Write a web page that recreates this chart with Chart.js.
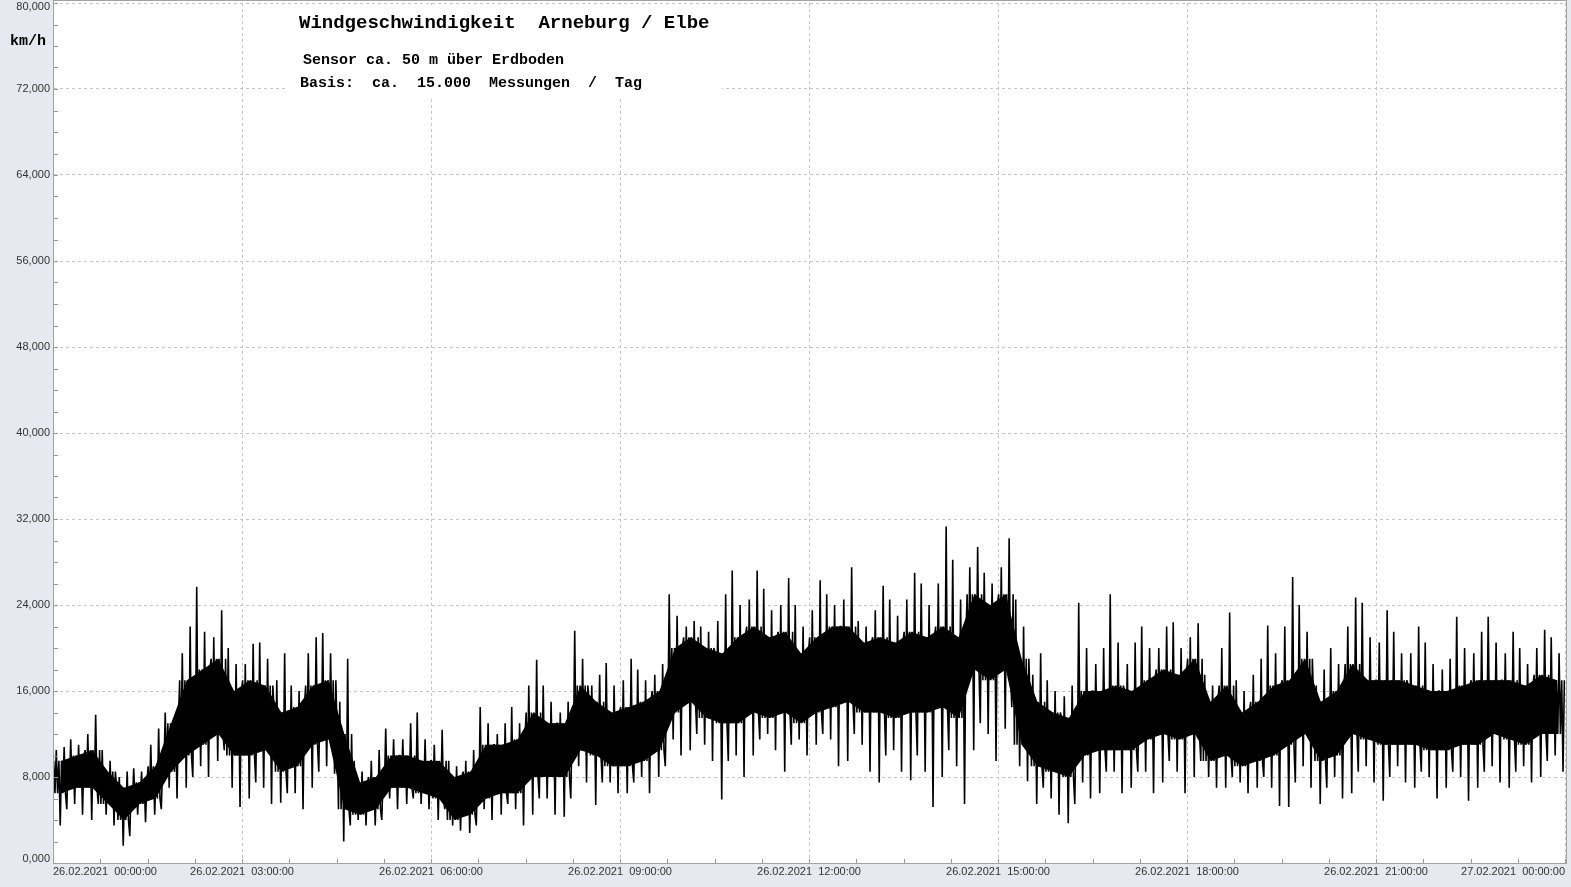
<!DOCTYPE html>
<html lang="de">
<head>
<meta charset="utf-8">
<title>Windgeschwindigkeit Arneburg / Elbe</title>
<script src="https://cdn.jsdelivr.net/npm/chart.js"></script>
<style>
    html, body { margin: 0; padding: 0; background: #e6e9f0; }
    canvas { display: block; }
</style>
</head>
<body>
<canvas id="chart" width="1571" height="887"></canvas>
<script>
const binHours = 0.25;

// hoechste Spitze im Abschnitt
const spikeHigh = [
    10.8, 11.5, 13.8, 10.5, 8.5, 8.8, 12.5, 14, 22, 25.7, 23.5, 20,
    20.4, 20.5, 19.5, 16.5, 21, 21.4, 19, 9.5, 10.5, 12.5, 13, 14,
    12.4, 9.5, 10.5, 14.5, 13, 14.5, 18.9, 16.5, 15, 21.6, 17.5, 18.6,
    19, 18, 18.5, 25, 22.5, 22, 25, 27.2, 27.2, 25.5, 26.5, 24,
    26.3, 25, 27.5, 22.5, 25.8, 24.5, 27, 26, 31.3, 28.2, 29.4, 27,
    30.2, 24.5, 19.5, 17, 16.5, 24.2, 20, 25, 20.5, 22, 22, 22.4,
    22.3, 17.5, 23.3, 17, 19, 22.1, 26.6, 24, 18, 20, 24.7, 24.2,
    23.5, 21.5, 22, 20.5, 19, 22.9, 21.5, 22.9, 21.5, 20, 21.7, 21
];

// typische Hoehe der haeufigen Spitzen nach oben
const fringeHigh = [
    10.5, 11, 12, 9.5, 8, 8.5, 11, 13, 19.5, 21.5, 21, 18.5,
    18.5, 19, 17, 16, 19.5, 19.5, 15, 8.5, 9.5, 11.5, 11.5, 11.5,
    11, 9, 9.5, 13, 12, 13, 16.5, 15, 14, 19, 16.5, 16.5,
    17, 17, 17.5, 23, 22, 21.5, 22.5, 24, 24.5, 23.5, 24, 22,
    23.5, 24, 24.5, 22, 23.5, 23, 24.5, 24, 26, 24.5, 27.5, 26,
    27.5, 22, 17.5, 16, 15.5, 20, 18.5, 20.5, 18.5, 20, 20, 20,
    21, 16.5, 20, 16, 17.5, 19.5, 22, 21.5, 16.5, 18.5, 22, 21,
    20.5, 19.5, 19.5, 18.5, 18, 20, 19.5, 20.5, 19.5, 18.5, 20, 19.5
];

// dichter Bereich, obere Kante
const coreHigh = [
    9.5, 10, 10.5, 8.5, 7, 7.5, 9, 13, 17, 18, 19, 16,
    17, 16.5, 14, 14.5, 16.5, 17, 12, 7.5, 8, 10, 10, 9.5,
    9.5, 8, 8.5, 11, 11, 11.5, 14, 13, 13, 16.5, 15, 14,
    14.5, 15, 16, 20, 21, 20, 19.5, 21, 22, 21, 21.5, 19.5,
    21, 22, 22, 20.5, 21, 20.5, 21.5, 21, 22, 21, 25, 24,
    25, 19, 15, 14, 13.5, 16, 16, 16.5, 16, 17, 18, 17.5,
    19, 15, 16.5, 14, 15, 16.5, 17, 19, 15, 16, 18.5, 17,
    17, 17, 16.5, 16, 16, 16.5, 17, 17, 17, 16.5, 17.5, 17
];

// dichter Bereich, untere Kante
const coreLow = [
    6.5, 7, 7, 5.5, 4, 5.5, 6, 8.5, 10, 11, 12, 10,
    10, 10.5, 8.5, 9, 11, 11.5, 5, 4.5, 5, 7, 7, 6.5,
    6, 4, 4.5, 6, 6.5, 6.5, 8, 8, 8, 10.5, 10, 9,
    9, 9.5, 10.5, 14, 15, 13.5, 13, 13, 14, 13.5, 14, 13,
    14, 14.5, 15, 14, 14, 13.5, 14, 14, 14.5, 13.5, 18, 17,
    18, 11, 9, 8.5, 8, 10, 10.5, 10.5, 10.5, 11.5, 12, 11.5,
    12, 9.5, 10, 9, 9.5, 10, 11, 12, 9.5, 10, 12, 11.5,
    11, 11, 11, 10.5, 10.5, 11, 11, 12, 11.5, 11, 12, 12
];

// typische Tiefe der haeufigen Spitzen nach unten
const fringeLow = [
    5, 5.5, 5.5, 4.5, 2.5, 4.5, 5, 7, 8, 9, 10.5, 7,
    7.5, 7, 6.5, 6.5, 8.5, 9, 3.5, 4, 4, 6, 6, 5.5,
    5, 3.5, 3.5, 5, 5.5, 5, 6, 6, 6, 9, 7.5, 7.5,
    7.5, 8, 9, 11.5, 12, 11, 9.5, 10, 11.5, 12, 11, 11.5,
    12, 11.5, 12, 11, 10, 10.5, 10, 8.5, 10.5, 9, 13, 12,
    14.5, 9, 7, 6, 5.5, 7.5, 8.5, 8.5, 8.5, 8.5, 9.5, 8.5,
    9.5, 8, 8, 7.5, 8, 7, 7.5, 9, 7, 8, 8.5, 9,
    8, 9, 8.5, 8, 8.5, 8, 8.5, 9, 8.5, 9, 9.5, 10
];

// tiefste Spitze im Abschnitt
const spikeLow = [
    3.5, 4.5, 4, 3.5, 1.6, 3.8, 4.5, 6, 7, 8, 9.5, 5.2,
    6, 5.5, 5.6, 5, 7, 8.3, 2, 3.5, 3.5, 5, 5.5, 5,
    4, 3, 2.8, 4, 4.5, 3.5, 4.5, 4.5, 4.3, 7.5, 5.4, 6.5,
    6.5, 6.5, 8, 10, 10.5, 9.5, 5.9, 8, 10, 10.5, 8.5, 10,
    11, 9, 9.5, 8.5, 7.5, 8.5, 7.7, 5.2, 8, 5.5, 10.5, 9.5,
    12.5, 7.6, 5.5, 4.5, 3.7, 6, 6.5, 6.5, 7, 6.5, 7.5, 6.5,
    8, 7, 7, 6.5, 7, 5.3, 5.2, 7, 5.5, 6, 6.5, 7.5,
    5.8, 7.5, 7, 6, 7, 5.8, 7, 7.5, 7, 7.5, 8, 8.5
];

const xDays = ['26.02.2021', '27.02.2021'];
const titleText = 'Windgeschwindigkeit  Arneburg / Elbe';
const subLines = ['Sensor ca. 50 m über Erdboden', 'Basis:  ca.  15.000  Messungen  /  Tag'];
const unitText = 'km/h';

const tickFont = { family: '"Liberation Sans", Arial, sans-serif', size: 11, lineHeight: 0.8 };
const gridColor = '#c6c6c6';
const frameColor = '#a2a2a2';

const series = { spikeHigh, fringeHigh, coreHigh, coreLow, fringeLow, spikeLow };
const orderA = ['coreHigh', 'coreLow', 'fringeHigh', 'coreLow', 'coreHigh', 'spikeLow',
                'coreHigh', 'coreLow', 'spikeHigh', 'coreLow', 'fringeLow', 'coreHigh'];
const orderB = ['coreLow', 'spikeHigh', 'coreLow', 'coreHigh', 'fringeLow', 'coreHigh',
                'coreLow', 'fringeHigh', 'coreLow', 'coreHigh', 'spikeLow', 'coreHigh'];

const tracePoints = [];
coreHigh.forEach((_, i) => {
    const order = i % 2 === 0 ? orderA : orderB;
    order.forEach((key, k) => {
        tracePoints.push({
            x: (i + (k + 0.5) / order.length) * binHours,
            y: series[key][i]
        });
    });
});

// schwarzes Kernband durch die Abschnittsmitten
const bandLow = coreLow.map((v, i) => ({ x: (i + 0.5) * binHours, y: v }));
const bandHigh = coreHigh.map((v, i) => ({ x: (i + 0.5) * binHours, y: v }));

function formatValue(v) {
    return v.toFixed(3).replace('.', ',');
}

const decorations = {
    id: 'decorations',
    beforeDraw(chart) {
        const { ctx, chartArea: a } = chart;
        ctx.save();
        ctx.fillStyle = '#e6e9f0';
        ctx.fillRect(0, 0, chart.width, chart.height);
        ctx.fillStyle = '#ffffff';
        ctx.fillRect(a.left, 1, a.right - a.left + 1, a.bottom - 1);
        ctx.restore();
    },
    afterDraw(chart) {
        const { ctx, chartArea: a, scales } = chart;
        ctx.save();

        // kleine Teilstriche
        ctx.strokeStyle = '#9a9a9a';
        ctx.lineWidth = 1;
        ctx.beginPath();
        for (let v = 0; v <= 80; v += 2) {
            const y = Math.round(scales.y.getPixelForValue(v)) + 0.5;
            ctx.moveTo(a.left, y);
            ctx.lineTo(a.left + 5, y);
        }
        for (let h = 0; h <= 24; h += 0.75) {
            const x = Math.round(scales.x.getPixelForValue(h)) + 0.5;
            ctx.moveTo(x, a.bottom);
            ctx.lineTo(x, a.bottom - 4);
        }
        ctx.stroke();

        // Rahmen
        ctx.strokeStyle = frameColor;
        ctx.strokeRect(a.left + 0.5, 0.5, a.right - a.left + 1, a.bottom);

        // Textkasten
        ctx.fillStyle = '#ffffff';
        ctx.fillRect(286, 5, 436, 91);
        ctx.fillStyle = '#000000';
        ctx.textBaseline = 'middle';
        ctx.font = 'bold 19px "Liberation Mono", "Courier New", monospace';
        ctx.fillText(titleText, 299, 23);
        ctx.font = 'bold 15px "Liberation Mono", "Courier New", monospace';
        ctx.fillText(subLines[0], 303, 60);
        ctx.fillText(subLines[1], 300, 83);
        ctx.fillText(unitText, 10, 41);
        ctx.restore();
    }
};

new Chart(document.getElementById('chart'), {
    type: 'line',
    data: {
        datasets: [
            {
                data: bandLow,
                borderWidth: 0,
                borderColor: 'rgba(0,0,0,0)',
                fill: false
            },
            {
                data: bandHigh,
                borderWidth: 0,
                borderColor: 'rgba(0,0,0,0)',
                backgroundColor: '#000',
                fill: '-1'
            },
            {
                data: tracePoints,
                borderColor: '#000',
                borderWidth: 1.6,
                borderJoinStyle: 'bevel',
                fill: false
            }
        ]
    },
    options: {
        responsive: false,
        animation: false,
        events: [],
        layout: { padding: { top: 3, right: 6, bottom: 0, left: 0 } },
        elements: { point: { radius: 0 }, line: { tension: 0 } },
        plugins: {
            legend: { display: false },
            tooltip: { enabled: false }
        },
        scales: {
            x: {
                type: 'linear',
                min: 0,
                max: 24,
                afterFit(scale) {
                    scale.height = 24;
                    scale.paddingLeft = 0;
                    scale.paddingRight = 0;
                },
                ticks: {
                    stepSize: 3,
                    autoSkip: false,
                    maxRotation: 0,
                    align: 'inner',
                    padding: 5,
                    color: '#333',
                    font: tickFont,
                    callback: (v) => {
                        const day = xDays[Math.floor(v / 24)];
                        const hh = String(v % 24).padStart(2, '0');
                        return `${day}  ${hh}:00:00`;
                    }
                },
                grid: { color: gridColor, drawTicks: false },
                border: { color: frameColor, dash: [3, 3] }
            },
            y: {
                min: 0,
                max: 80,
                afterFit(scale) {
                    scale.width = 53;
                    scale.paddingTop = 0;
                    scale.paddingBottom = 0;
                },
                ticks: {
                    stepSize: 8,
                    padding: 3,
                    color: '#333',
                    font: tickFont,
                    callback: (v) => {
                        if (v === 80) return ['', formatValue(v)];
                        if (v === 0) return [formatValue(v), ''];
                        return formatValue(v);
                    }
                },
                grid: { color: gridColor, drawTicks: false },
                border: { color: frameColor, dash: [3, 3] }
            }
        }
    },
    plugins: [decorations]
});
</script>
</body>
</html>
